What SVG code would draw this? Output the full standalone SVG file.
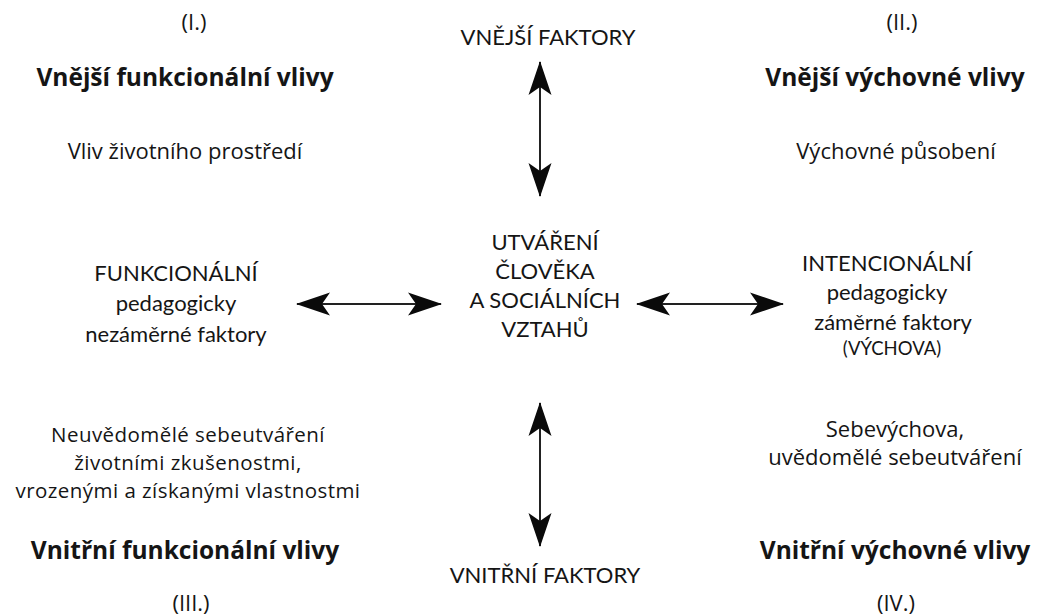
<svg xmlns="http://www.w3.org/2000/svg" width="1040" height="616" viewBox="0 0 1040 616">
<defs>
<style>
text{fill:#151515;text-anchor:middle}
.q{font-family:"Open Sans","Noto Sans",sans-serif;font-size:22px}
.qs{font-family:"Open Sans","Noto Sans",sans-serif;font-size:20.5px;letter-spacing:0.45px}
.h{font-family:"Open Sans","Noto Sans",sans-serif;font-size:24.5px;font-weight:bold}
.c{font-family:Lato,"Open Sans",sans-serif;font-size:22px}
.s{font-family:Lato,"Open Sans",sans-serif;font-size:18.5px}
.ln{stroke:#222;stroke-width:2;fill:none;marker-start:url(#ah);marker-end:url(#ah)}
</style>
<marker id="ah" viewBox="0 -12 34 24" refX="33" refY="0" markerWidth="34" markerHeight="24" markerUnits="userSpaceOnUse" orient="auto-start-reverse">
<path d="M0,-11.5 L34,0 L0,11.5 L8,0 Z" fill="#0a0a0a"/>
</marker>
</defs>
<rect width="1040" height="616" fill="#fff"/>
<g id="connectors">
<line class="ln" x1="540" y1="62" x2="540" y2="196"/>
<line class="ln" x1="540" y1="403" x2="540" y2="546"/>
<line class="ln" x1="297" y1="304" x2="441" y2="304"/>
<line class="ln" x1="637" y1="304" x2="783" y2="304"/>
</g>
<g id="q1">
<text class="q" x="194" y="30">(I.)</text>
<text class="h" x="185" y="86">Vnější funkcionální vlivy</text>
<text class="q" x="185" y="159">Vliv životního prostředí</text>
</g>
<g id="q2">
<text class="q" x="902" y="30">(II.)</text>
<text class="h" x="895" y="86">Vnější výchovné vlivy</text>
<text class="q" x="896" y="159">Výchovné působení</text>
</g>
<g id="vnejsi">
<text class="c" x="548" y="45">VNĚJŠÍ FAKTORY</text>
</g>
<g id="center">
<text class="c" x="545" y="250">UTVÁŘENÍ</text>
<text class="c" x="545" y="279">ČLOVĚKA</text>
<text class="c" x="545" y="308">A SOCIÁLNÍCH</text>
<text class="c" x="545" y="337">VZTAHŮ</text>
</g>
<g id="funkcionalni">
<text class="c" x="176" y="281">FUNKCIONÁLNÍ</text>
<text class="c" x="176" y="311">pedagogicky</text>
<text class="c" x="176" y="342">nezáměrné faktory</text>
</g>
<g id="intencionalni">
<text class="c" x="887" y="271">INTENCIONÁLNÍ</text>
<text class="c" x="887" y="300">pedagogicky</text>
<text class="c" x="893" y="330">záměrné faktory</text>
<text class="s" x="892" y="355">(VÝCHOVA)</text>
</g>
<g id="q3">
<text class="qs" x="188" y="442">Neuvědomělé sebeutváření</text>
<text class="qs" x="188" y="470">životními zkušenostmi,</text>
<text class="qs" x="188" y="498">vrozenými a získanými vlastnostmi</text>
<text class="h" x="185" y="559">Vnitřní funkcionální vlivy</text>
<text class="q" x="191" y="611">(III.)</text>
</g>
<g id="vnitrni">
<text class="c" x="545" y="583">VNITŘNÍ FAKTORY</text>
</g>
<g id="q4">
<text class="q" x="895" y="437">Sebevýchova,</text>
<text class="q" x="895" y="465">uvědomělé sebeutváření</text>
<text class="h" x="895" y="559">Vnitřní výchovné vlivy</text>
<text class="q" x="896" y="611">(IV.)</text>
</g>
</svg>
